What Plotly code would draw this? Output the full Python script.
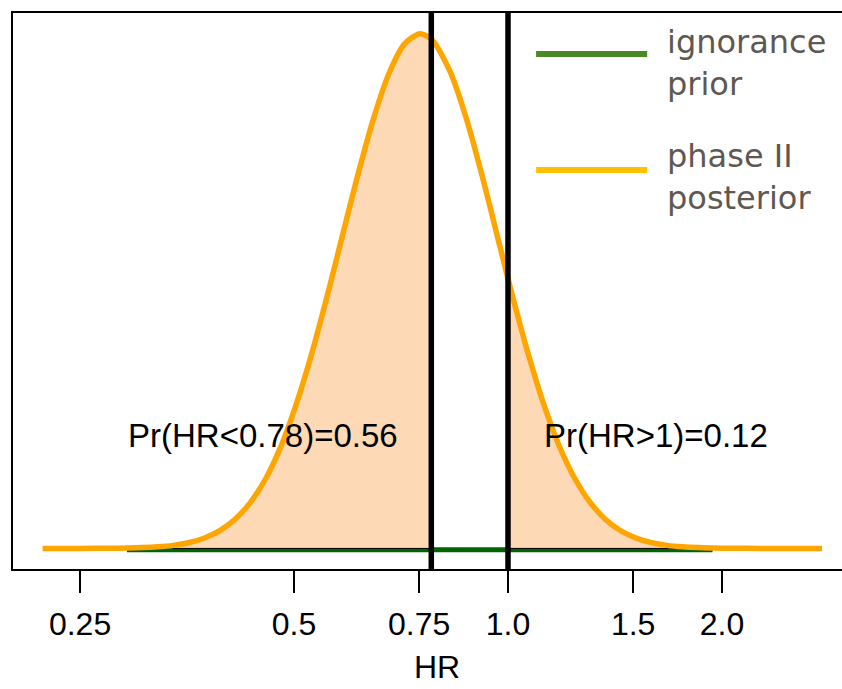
import plotly.graph_objects as go

# ---- data ----
hr = [0.2214, 0.2265, 0.2503, 0.2766, 0.2908, 0.3057, 0.3214, 0.3379, 0.3552, 0.3734,
      0.3926, 0.4127, 0.4339, 0.4561, 0.4795, 0.5041, 0.5299, 0.5571, 0.5857, 0.6157,
      0.6473, 0.6805, 0.7153, 0.7520, 0.78, 0.7906, 0.8311, 0.8737, 0.9185, 0.9656,
      1.0, 1.0151, 1.0672, 1.1219, 1.1794, 1.2399, 1.3034, 1.3703, 1.4405, 1.5144,
      1.5920, 1.6736, 1.7595, 1.8497, 1.9445, 2.0442, 2.2593, 2.6248, 2.765]
posterior_density = [0.0, 0.0, 0.0001, 0.0005, 0.0012, 0.0025, 0.0049, 0.0095, 0.0177, 0.0317,
                     0.0543, 0.0896, 0.142, 0.216, 0.318, 0.450, 0.607, 0.785, 0.975, 1.163,
                     1.335, 1.474, 1.564, 1.596, 1.579, 1.564, 1.473, 1.333, 1.160, 0.970,
                     0.836, 0.781, 0.604, 0.449, 0.320, 0.219, 0.144, 0.0906, 0.0548, 0.0320,
                     0.0178, 0.0095, 0.0049, 0.0025, 0.0012, 0.0005, 0.0001, 0.0, 0.0]
prior_hr = [0.291, 1.94]
prior_density = [-0.004, -0.004]

cut_low = 0.78
cut_high = 1.0
fill_low_start = 0.33
fill_high_end = 1.76
prob_low = "0.56"
prob_high = "0.12"

tick_vals = [0.25, 0.5, 0.75, 1.0, 1.5, 2.0]
tick_text = ["0.25", "0.5", "0.75", "1.0", "1.5", "2.0"]
legend_labels = ["ignorance<br>prior", "phase II<br>posterior"]

# ---- styles ----
Y_RANGE = [-0.0638, 1.660]
X_RANGE = [-0.6964, 0.4699]
FILL = "#fdd9b6"
ORANGE = "#ffa500"
GREEN = "#006400"
FONT = "Liberation Sans, Arial, sans-serif"

fig = go.Figure()

fig.add_trace(go.Scatter(x=prior_hr, y=prior_density, mode="lines",
                         line=dict(color=GREEN, width=5), hoverinfo="skip"))

# shaded regions
lx = [h for h in hr if fill_low_start <= h <= cut_low]
ly = [d for h, d in zip(hr, posterior_density) if fill_low_start <= h <= cut_low]
fig.add_trace(go.Scatter(x=lx + [lx[-1], lx[0]], y=ly + [0, 0], mode="lines",
                         fill="toself", fillcolor=FILL,
                         line=dict(color="black", width=1), hoverinfo="skip"))
rx = [h for h in hr if cut_high <= h <= fill_high_end]
ry = [d for h, d in zip(hr, posterior_density) if cut_high <= h <= fill_high_end]
fig.add_trace(go.Scatter(x=rx + [rx[-1], rx[0]], y=ry + [0, 0], mode="lines",
                         fill="toself", fillcolor=FILL,
                         line=dict(color="black", width=1), hoverinfo="skip"))

fig.add_trace(go.Scatter(x=hr, y=posterior_density, mode="lines",
                         line=dict(color=ORANGE, width=5.5, shape="spline", smoothing=0.8),
                         hoverinfo="skip"))

for c in (cut_low, cut_high):
    fig.add_trace(go.Scatter(x=[c, c], y=Y_RANGE, mode="lines",
                             line=dict(color="black", width=5.5), hoverinfo="skip"))

fig.update_layout(
    width=842, height=689,
    margin=dict(l=13, r=0, t=13, b=120),
    paper_bgcolor="white", plot_bgcolor="white",
    showlegend=False,
    font=dict(family=FONT, size=32, color="black"),
    xaxis=dict(type="log", range=X_RANGE, showgrid=False, zeroline=False,
               showline=True, mirror=True, linecolor="black", linewidth=1.5,
               ticks="outside", ticklen=22, tickwidth=1.5, tickcolor="black",
               ticklabelstandoff=4,
               tickvals=tick_vals, ticktext=tick_text,
               tickfont=dict(family=FONT, size=32, color="black")),
    yaxis=dict(range=Y_RANGE, showgrid=False, zeroline=False, showline=True,
               linecolor="black", linewidth=1.5, showticklabels=False, ticks=""),
)

annotations = [
    dict(text="Pr(HR<%s)=%s" % (cut_low, prob_low), x=0.3016, y=0.241, size=33),
    dict(text="Pr(HR>%d)=%s" % (cut_high, prob_high), x=0.7756, y=0.241, size=33),
    dict(text="HR", x=0.511, y=-0.1763, size=32),
]
for a in annotations:
    fig.add_annotation(xref="paper", yref="paper", showarrow=False,
                       xanchor="center", yanchor="middle", text=a["text"],
                       x=a["x"], y=a["y"],
                       font=dict(family=FONT, size=a["size"], color="black"))

legend_y = [0.9263, 0.7176]
legend_colors = ["#4a8a24", "#ffc000"]
legend_text_y = [0.910, 0.705]
for lab, yy, col, ty in zip(legend_labels, legend_y, legend_colors, legend_text_y):
    fig.add_shape(type="line", xref="paper", yref="paper", x0=0.631, x1=0.765,
                  y0=yy, y1=yy, line=dict(color=col, width=6))
    fig.add_annotation(xref="paper", yref="paper", showarrow=False, text=lab,
                       x=0.7865, y=ty, xanchor="left", yanchor="middle", align="left",
                       font=dict(family="DejaVu Sans, sans-serif", size=32, color="#5f5852"))

fig.write_html("out.html", config={"displayModeBar": False},
               post_script="document.body.style.margin='0';document.body.style.overflow='hidden';")
